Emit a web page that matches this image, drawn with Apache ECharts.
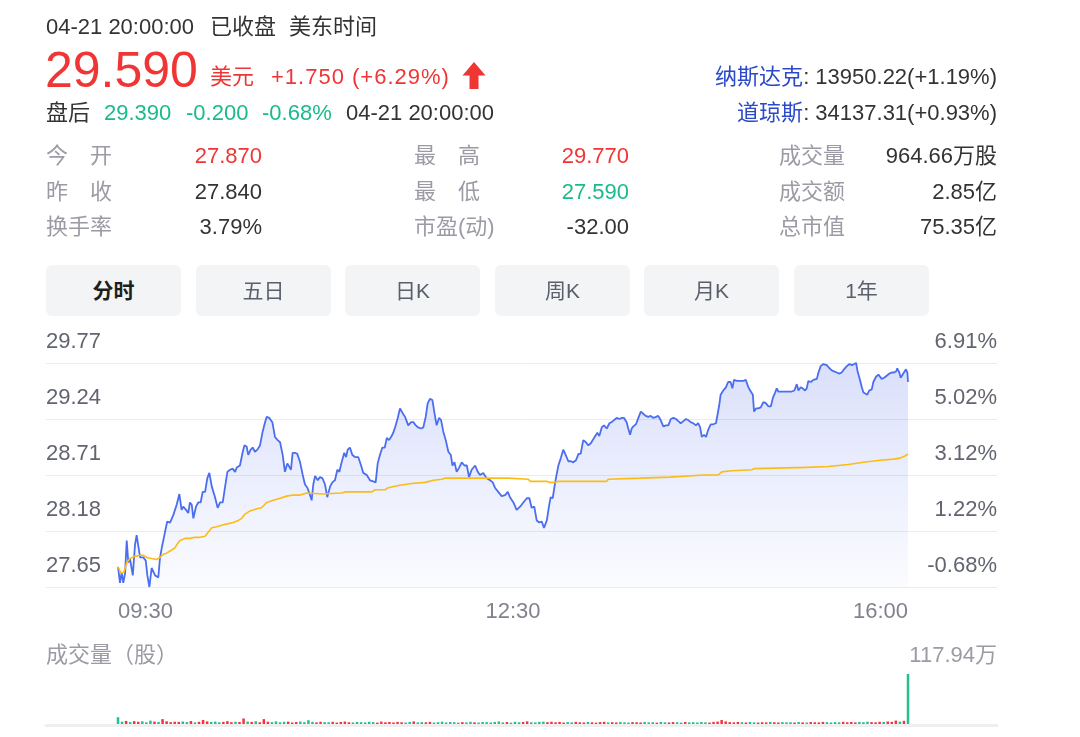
<!DOCTYPE html>
<html>
<head>
<meta charset="utf-8">
<script src="https://cdn.jsdelivr.net/npm/echarts@6/dist/echarts.min.js"></script>
<style>
  html, body { margin:0; padding:0; background:#fff; }
  #wrap { position:relative; width:1080px; height:737px; overflow:hidden; font-family:'Liberation Sans','Noto Sans CJK SC',sans-serif; }
  #chart { position:absolute; left:0; top:0; width:1080px; height:737px; }
  .t { position:absolute; white-space:nowrap; font-size:22px; line-height:22px; color:#333; z-index:2; }
  .r { color:#f03535; }
  .g { color:#19bb8b; }
  .lab { color:#9a9ba4; }
  .blue { color:#2b49c9; }
  .tab { position:absolute; top:265px; width:135px; height:51px; line-height:51px; background:#f3f4f6; border-radius:6px; text-align:center; font-size:21px; color:#5b5f6b; z-index:2; }
</style>
</head>
<body>
<div id="wrap">
  <div id="chart"></div>

  <div class="t" style="left:46px;top:16px;">04-21 20:00:00</div>
  <div class="t" style="left:210px;top:16px;">已收盘</div>
  <div class="t" style="left:289px;top:16px;">美东时间</div>

  <div class="t r" style="left:45px;top:45px;font-size:50px;line-height:50px;">29.590</div>
  <div class="t r" style="left:210px;top:66px;">美元</div>
  <div class="t r" style="left:271px;top:66px;letter-spacing:1px;">+1.750 (+6.29%)</div>
  <svg style="position:absolute;left:462px;top:62px;z-index:2" width="24" height="28" viewBox="0 0 24 28">
    <path d="M12 0 L23.5 13.5 L16.5 13.5 L16.5 27 L7.5 27 L7.5 13.5 L0.5 13.5 Z" fill="#f03535"/>
  </svg>

  <div class="t" style="left:46px;top:102px;">盘后</div>
  <div class="t g" style="left:104px;top:102px;">29.390</div>
  <div class="t g" style="left:186px;top:102px;">-0.200</div>
  <div class="t g" style="left:262px;top:102px;">-0.68%</div>
  <div class="t" style="left:346px;top:102px;">04-21 20:00:00</div>

  <div class="t" style="right:83px;top:66px;"><span class="blue">纳斯达克</span>: 13950.22(+1.19%)</div>
  <div class="t" style="right:83px;top:102px;"><span class="blue">道琼斯</span>: 34137.31(+0.93%)</div>

  <div class="t lab" style="left:46px;top:145px;">今　开</div>
  <div class="t r" style="right:818px;top:145px;">27.870</div>
  <div class="t lab" style="left:414px;top:145px;">最　高</div>
  <div class="t r" style="right:451px;top:145px;">29.770</div>
  <div class="t lab" style="left:779px;top:145px;">成交量</div>
  <div class="t" style="right:83px;top:145px;">964.66万股</div>

  <div class="t lab" style="left:46px;top:181px;">昨　收</div>
  <div class="t" style="right:818px;top:181px;">27.840</div>
  <div class="t lab" style="left:414px;top:181px;">最　低</div>
  <div class="t g" style="right:451px;top:181px;">27.590</div>
  <div class="t lab" style="left:779px;top:181px;">成交额</div>
  <div class="t" style="right:83px;top:181px;">2.85亿</div>

  <div class="t lab" style="left:46px;top:216px;">换手率</div>
  <div class="t" style="right:818px;top:216px;">3.79%</div>
  <div class="t lab" style="left:414px;top:216px;">市盈(动)</div>
  <div class="t" style="right:451px;top:216px;">-32.00</div>
  <div class="t lab" style="left:779px;top:216px;">总市值</div>
  <div class="t" style="right:83px;top:216px;">75.35亿</div>

  <div class="tab" style="left:46px;color:#1e1e1e;font-weight:bold;">分时</div>
  <div class="tab" style="left:196px;">五日</div>
  <div class="tab" style="left:345px;">日K</div>
  <div class="tab" style="left:495px;">周K</div>
  <div class="tab" style="left:644px;">月K</div>
  <div class="tab" style="left:794px;">1年</div>

  <div class="t lab" style="left:46px;top:644px;">成交量（股）</div>
  <div class="t lab" style="right:83px;top:644px;">117.94万</div>
</div>

<script>
// ---------- data ----------
const prevClose = 27.84;

// y axis tick values and their labels
const priceTicks = [27.65, 28.18, 28.71, 29.24, 29.77];
const priceLabels = ['27.65', '28.18', '28.71', '29.24', '29.77'];
const pctLabels = ['-0.68%', '1.22%', '3.12%', '5.02%', '6.91%'];

// x axis: minutes since 09:30 (0 .. 390), tick labels
const timeTicks = [0, 195, 390];
const timeLabels = ['09:30', '12:30', '16:00'];

// price line: [minutes since open, price]
const pricePoints = [
[0,27.84],[1.0,27.69],[1.8,27.79],[2.6,27.69],[3.5,27.78],[4.3,28.09],[5.1,27.88],[5.9,27.92],[7.3,27.76],[8.4,28.05],
[9.2,28.14],[10.9,27.93],[12.5,27.93],[13.7,27.90],[14.5,27.76],[15.5,27.65],[16.6,27.83],[18.3,27.76],[19.9,27.74],[20.7,27.92],
[21.6,28.02],[22.4,28.03],[23.2,28.17],[24.3,28.27],[25.7,28.26],[27.3,28.33],[29.0,28.43],[30.3,28.53],[31.4,28.38],[32.2,28.41],
[33.6,28.38],[34.7,28.35],[35.5,28.45],[36.4,28.43],[37.2,28.30],[38.5,28.41],[39.6,28.45],[40.8,28.45],[41.8,28.55],[43.0,28.55],
[44.1,28.68],[45.1,28.73],[46.3,28.60],[47.9,28.50],[49.2,28.40],[50.4,28.45],[51.7,28.45],[52.8,28.59],[54.0,28.74],[55.3,28.76],
[56.6,28.77],[57.8,28.74],[58.6,28.78],[60.2,28.80],[61.6,28.93],[62.4,28.99],[63.5,28.98],[64.3,28.90],[65.5,28.95],[66.5,28.97],
[67.6,28.93],[68.8,28.95],[70.1,28.99],[71.4,29.12],[72.6,29.21],[73.4,29.26],[74.7,29.25],[76.2,29.21],[77.5,29.07],[78.8,29.04],
[80.0,29.02],[81.3,28.90],[82.4,28.74],[83.6,28.82],[84.4,28.83],[85.4,28.76],[86.2,28.92],[87.4,28.92],[88.5,28.91],[89.9,28.83],
[91.2,28.71],[92.3,28.62],[93.5,28.59],[94.8,28.52],[95.6,28.47],[96.4,28.62],[97.3,28.70],[98.6,28.66],[99.7,28.69],[100.9,28.68],
[102.2,28.62],[103.3,28.50],[104.7,28.60],[105.8,28.64],[107.1,28.66],[108.3,28.76],[109.3,28.74],[110.4,28.83],[111.7,28.92],[112.6,28.88],
[113.4,28.95],[114.5,28.97],[115.7,28.90],[117.0,28.88],[118.6,28.88],[120.0,28.80],[121.1,28.73],[122.8,28.71],[124.4,28.66],[126.0,28.65],
[127.2,28.64],[128.2,28.82],[129.3,28.90],[130.5,28.97],[131.7,28.97],[132.7,29.06],[133.8,29.04],[134.8,29.07],[135.9,29.11],[137.1,29.18],
[138.1,29.25],[139.2,29.34],[140.4,29.30],[141.7,29.26],[142.5,29.26],[143.3,29.18],[144.7,29.21],[145.8,29.21],[147.0,29.18],[148.2,29.16],
[149.6,29.15],[150.7,29.16],[151.9,29.26],[152.9,29.39],[154.0,29.43],[155.2,29.42],[156.2,29.30],[157.3,29.18],[158.5,29.25],[159.5,29.23],
[160.6,29.12],[161.8,29.04],[163.1,28.93],[164.3,28.90],[165.1,28.80],[166.1,28.83],[167.2,28.74],[168.4,28.78],[169.7,28.83],[171.0,28.80],
[172.2,28.80],[173.3,28.69],[174.6,28.76],[176.3,28.80],[177.6,28.74],[178.7,28.71],[180.3,28.73],[182.0,28.68],[183.7,28.66],[185.0,28.64],
[186.1,28.59],[187.7,28.55],[189.4,28.51],[191.1,28.52],[192.4,28.55],[193.5,28.50],[195.2,28.45],[196.8,28.38],[198.5,28.41],[200.1,28.45],
[201.8,28.49],[203.1,28.49],[204.2,28.40],[205.5,28.41],[206.7,28.28],[208.0,28.26],[209.2,28.27],[210.3,28.21],[211.7,28.28],[212.9,28.43],
[213.6,28.50],[214.6,28.49],[215.4,28.59],[216.2,28.68],[217.4,28.80],[218.6,28.87],[219.8,28.95],[221.0,28.90],[222.3,28.84],[223.6,28.84],
[224.8,28.83],[226.1,28.85],[227.3,28.91],[228.4,28.91],[229.7,29.04],[231.0,29.02],[232.2,28.99],[233.4,29.01],[234.7,29.05],[236.0,29.09],
[236.6,29.11],[237.6,29.08],[238.8,29.16],[239.9,29.18],[241.3,29.15],[242.6,29.20],[243.7,29.21],[244.9,29.23],[246.2,29.25],[247.5,29.24],
[248.7,29.25],[249.8,29.25],[251.1,29.21],[251.9,29.15],[252.8,29.09],[253.6,29.15],[254.4,29.17],[255.7,29.19],[256.9,29.25],[258.1,29.31],
[259.3,29.29],[260.5,29.27],[261.8,29.26],[263.0,29.27],[264.3,29.25],[265.6,29.26],[266.7,29.27],[267.9,29.23],[269.2,29.17],[270.6,29.18],
[271.7,29.18],[272.9,29.24],[274.2,29.25],[275.5,29.24],[276.6,29.22],[277.8,29.20],[279.1,29.22],[280.4,29.24],[281.5,29.23],[282.7,29.21],
[284.0,29.20],[285.3,29.18],[286.4,29.20],[287.4,29.16],[288.2,29.07],[289.3,29.09],[290.3,29.07],[291.4,29.14],[292.6,29.19],[293.9,29.19],
[295.2,29.20],[296.0,29.20],[296.8,29.37],[297.5,29.47],[298.8,29.51],[300.1,29.54],[301.2,29.59],[302.4,29.59],[303.3,29.53],[304.1,29.61],
[305.5,29.60],[307.1,29.60],[308.7,29.60],[309.9,29.61],[311.2,29.54],[312.4,29.50],[313.4,29.47],[314.0,29.31],[315.0,29.34],[316.1,29.34],
[317.3,29.35],[318.6,29.40],[319.8,29.39],[321.1,29.36],[322.3,29.36],[323.3,29.44],[324.4,29.49],[325.2,29.53],[326.0,29.50],[327.7,29.50],
[329.3,29.50],[331.0,29.50],[332.6,29.50],[333.9,29.51],[335.1,29.57],[335.9,29.51],[337.0,29.54],[338.0,29.53],[339.2,29.51],[340.0,29.53],
[340.8,29.60],[342.0,29.59],[343.3,29.61],[345.0,29.62],[345.8,29.68],[346.9,29.74],[348.2,29.76],[349.9,29.75],[351.2,29.72],[352.4,29.70],
[353.5,29.69],[354.8,29.68],[356.1,29.67],[357.3,29.68],[358.4,29.71],[359.8,29.74],[361.1,29.76],[362.2,29.75],[363.4,29.76],[364.4,29.77],
[365.0,29.70],[366.0,29.63],[367.2,29.54],[368.0,29.49],[368.8,29.50],[369.9,29.47],[370.9,29.51],[372.1,29.52],[372.9,29.59],[374.2,29.64],
[375.4,29.66],[376.2,29.65],[377.0,29.62],[378.2,29.63],[379.5,29.65],[380.8,29.67],[381.9,29.68],[383.1,29.68],[384.1,29.69],[384.7,29.72],
[385.7,29.68],[386.4,29.63],[387.7,29.67],[389.0,29.71],[389.7,29.68],[390,29.59]
];

// average price line: [minutes since open, price]
const avgPoints = [
[0,27.84],[1.5,27.78],[2.9,27.79],[4.3,27.88],[5.9,27.92],[8.4,27.94],[10.9,27.95],[12.5,27.95],[14.2,27.93],[16.6,27.92],
[19.1,27.91],[20.7,27.93],[22.4,27.96],[24.0,27.97],[26.5,28.00],[28.1,28.02],[29.0,28.05],[30.6,28.09],[33.1,28.11],[35.5,28.11],
[38.0,28.12],[40.5,28.12],[43.0,28.13],[44.6,28.17],[46.3,28.21],[48.7,28.22],[52.0,28.24],[54.5,28.25],[56.9,28.26],[59.4,28.28],
[61.1,28.30],[62.7,28.34],[65.2,28.37],[68.5,28.39],[70.9,28.40],[73.4,28.45],[76.7,28.47],[80.0,28.49],[83.3,28.51],[86.5,28.52],
[89.9,28.52],[93.2,28.54],[100.6,28.53],[110.4,28.54],[112.1,28.55],[125.3,28.55],[126.9,28.57],[131.8,28.57],[133.4,28.59],[138.4,28.61],
[145.0,28.63],[151.6,28.64],[155.7,28.66],[159.8,28.67],[161.4,28.68],[193.0,28.68],[202.6,28.67],[203.4,28.65],[211.7,28.65],[213.3,28.64],
[215.7,28.64],[217.4,28.65],[241.3,28.65],[242.0,28.67],[257.7,28.68],[258.6,28.69],[272.5,28.69],[273.4,28.70],[289.3,28.71],[296.4,28.71],
[298.0,28.74],[303.0,28.75],[312.9,28.76],[314.0,28.77],[335.1,28.78],[336.7,28.78],[350.7,28.79],[351.5,28.80],[360.5,28.81],[361.4,28.82],
[368.0,28.83],[376.2,28.85],[382.8,28.86],[386.1,28.87],[388.5,28.89],[390,28.91]
];

// volume, in 万股, one bar every 2 minutes from 09:30
const volStep = 2;
const volumeVals = [
16,
5.6,7.2,4.6,6.8,5.2,6.3,4.0,7.9,5.6,4.9,11.5,6.5,4.3,5.4,5.0,
5.9,4.5,7.0,3.8,5.2,9.4,6.1,4.7,5.6,4.0,5.0,6.7,4.3,5.4,4.7,
13.0,5.8,4.9,6.5,4.1,11.5,5.4,4.5,6.1,4.0,5.2,5.6,3.6,4.7,5.9,
4.3,9.0,5.0,3.8,5.4,4.5,4.0,5.2,3.4,4.7,5.8,4.1,3.6,4.9,4.3,
3.8,5.2,4.5,3.2,5.6,4.0,4.7,3.6,5.0,4.1,3.4,4.9,6.1,3.8,4.5,
4.0,5.0,3.4,4.3,5.4,3.6,4.7,4.1,3.2,4.5,3.8,5.2,4.0,3.4,4.7,
4.3,3.6,4.9,5.9,3.8,4.5,3.2,5.2,4.0,4.7,6.3,4.1,3.6,5.0,5.6,
4.3,5.4,4.0,4.9,3.4,4.5,3.8,5.0,4.1,3.6,4.7,4.0,3.2,4.5,5.2,
3.8,4.3,3.6,4.9,4.0,3.4,4.5,4.1,3.6,5.0,3.8,4.3,3.2,4.7,4.0,
3.6,4.5,4.1,3.4,4.9,3.8,4.3,3.6,4.7,4.0,3.4,5.0,5.6,9.5,6.1,
4.5,3.8,4.9,4.1,3.6,4.7,4.0,3.4,4.3,3.8,5.0,4.1,3.6,4.5,4.0,
4.3,3.6,4.9,4.0,3.4,4.7,4.1,3.8,5.0,4.3,3.6,4.5,4.0,5.2,4.1,
4.7,3.8,5.0,4.3,5.4,4.5,4.0,5.2,4.7,5.9,5.0,8.0,5.6,7.5,117.94
];
const volMax = 117.94;

// ---------- chart ----------
const FONT = "'Liberation Sans','Noto Sans CJK SC',sans-serif";
const AXIS_GRAY = '#62646f';

function tickIndex(v) {
  for (let i = 0; i < priceTicks.length; i++) if (Math.abs(v - priceTicks[i]) < 0.005) return i;
  return -1;
}
function priceAt(t) {
  if (t <= pricePoints[0][0]) return pricePoints[0][1];
  for (let i = 1; i < pricePoints.length; i++) {
    const a = pricePoints[i - 1], b = pricePoints[i];
    if (t <= b[0]) return a[1] + (b[1] - a[1]) * (t - a[0]) / (b[0] - a[0]);
  }
  return pricePoints[pricePoints.length - 1][1];
}
const volData = volumeVals.map((v, i) => [i * volStep, v]);

const chart = echarts.init(document.getElementById('chart'), null, { renderer: 'canvas' });
const pMin = priceTicks[0], pMax = priceTicks[priceTicks.length - 1];
const pInt = +(priceTicks[1] - priceTicks[0]).toFixed(2);

chart.setOption({
  animation: false,
  backgroundColor: '#ffffff',
  grid: [
    { left: 46, right: 83, top: 363, bottom: 150 },
    { left: 118, right: 172, top: 363, bottom: 150 },
    { left: 118, right: 172, top: 674, bottom: 13 },
    { left: 46, right: 83, top: 674, bottom: 11.5 }
  ],
  xAxis: [
    { gridIndex: 0, type: 'value', min: 0, max: 1, show: false },
    {
      gridIndex: 1, type: 'value', min: timeTicks[0], max: timeTicks[2], interval: timeTicks[1] - timeTicks[0],
      axisLine: { show: false }, axisTick: { show: false }, splitLine: { show: false },
      axisLabel: {
        margin: 14, color: '#80838d', fontSize: 22, lineHeight: 22, fontFamily: FONT,
        alignMinLabel: 'left', alignMaxLabel: 'right',
        formatter: v => { const i = timeTicks.indexOf(Math.round(v)); return i >= 0 ? timeLabels[i] : ''; }
      }
    },
    { gridIndex: 2, type: 'value', min: timeTicks[0], max: timeTicks[2], show: false },
    {
      gridIndex: 3, type: 'value', min: 0, max: 1,
      axisLine: { show: true, lineStyle: { color: '#efefef', width: 3 } },
      axisTick: { show: false }, axisLabel: { show: false }, splitLine: { show: false }
    }
  ],
  yAxis: [
    {
      gridIndex: 0, type: 'value', min: pMin, max: pMax, interval: pInt, position: 'left',
      axisLine: { show: false }, axisTick: { show: false },
      splitLine: { show: true, lineStyle: { color: '#ececec', width: 1 } },
      axisLabel: {
        inside: true, margin: 0, align: 'left', verticalAlign: 'bottom', padding: [0, 0, 10, 0],
        color: AXIS_GRAY, fontSize: 22, lineHeight: 22, fontFamily: FONT,
        formatter: v => { const i = tickIndex(v); return i >= 0 ? priceLabels[i] : ''; }
      }
    },
    {
      gridIndex: 0, type: 'value', min: pMin, max: pMax, interval: pInt, position: 'right',
      axisLine: { show: false }, axisTick: { show: false }, splitLine: { show: false },
      axisLabel: {
        inside: true, margin: 0, align: 'right', verticalAlign: 'bottom', padding: [0, 0, 10, 0],
        color: AXIS_GRAY, fontSize: 22, lineHeight: 22, fontFamily: FONT,
        formatter: v => { const i = tickIndex(v); return i >= 0 ? pctLabels[i] : ''; }
      }
    },
    { gridIndex: 1, type: 'value', min: pMin, max: pMax, show: false },
    { gridIndex: 2, type: 'value', min: 0, max: volMax, show: false },
    { gridIndex: 3, type: 'value', min: 0, max: 1, show: false }
  ],
  series: [
    {
      name: '价格', type: 'line', xAxisIndex: 1, yAxisIndex: 2, data: pricePoints,
      showSymbol: false, symbol: 'none', z: 3,
      lineStyle: { color: '#4b6ef0', width: 1.8 },
      areaStyle: {
        color: new echarts.graphic.LinearGradient(0, 0, 0, 1, [
          { offset: 0, color: 'rgba(80,108,236,0.3)' },
          { offset: 1, color: 'rgba(80,108,236,0.03)' }
        ])
      }
    },
    {
      name: '均价', type: 'line', xAxisIndex: 1, yAxisIndex: 2, data: avgPoints,
      showSymbol: false, symbol: 'none', z: 4,
      lineStyle: { color: '#fbbc15', width: 1.6 }
    },
    {
      name: '成交量', type: 'bar', xAxisIndex: 2, yAxisIndex: 3, data: volData, barWidth: 2.5,
      itemStyle: {
        color: p => {
          const t = p.data[0];
          const now = priceAt(t), before = t === 0 ? prevClose : priceAt(t - volStep);
          return now > before ? '#f4333c' : '#22c08f';
        }
      }
    }
  ]
});
</script>
</body>
</html>
